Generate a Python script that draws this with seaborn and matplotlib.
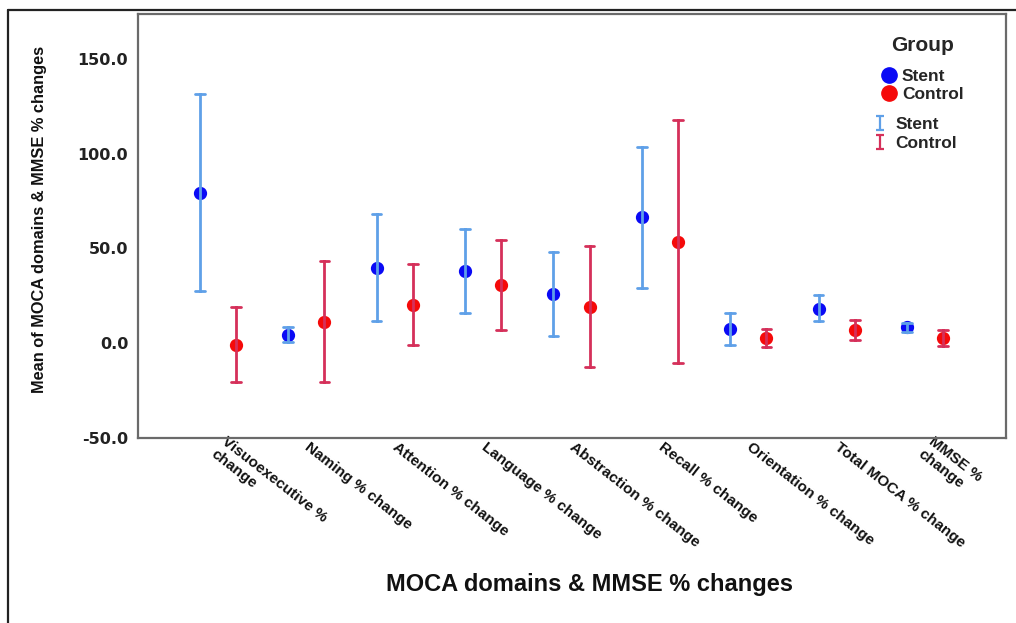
import numpy as np
import pandas as pd
import matplotlib
matplotlib.use("Agg")
import matplotlib.pyplot as plt
from matplotlib.lines import Line2D
from matplotlib.path import Path
import seaborn as sns

# ---------------- data ----------------
categories = ["Visuoexecutive % change", "Naming % change", "Attention % change",
              "Language % change", "Abstraction % change", "Recall % change",
              "Orientation % change", "Total MOCA % change", "MMSE % change"]
tick_labels = ["Visuoexecutive %\nchange", "Naming % change", "Attention % change",
               "Language % change", "Abstraction % change", "Recall % change",
               "Orientation % change", "Total MOCA % change", "MMSE %\nchange"]
groups = ["Stent", "Control"]

stent_mean = [79.4, 4.3, 39.8, 37.9, 25.7, 66.7, 7.5, 18.0, 8.2]
stent_lo = [27.4, 0.4, 11.7, 15.7, 3.8, 29.3, -0.9, 11.7, 5.8]
stent_hi = [131.8, 8.4, 68.1, 60.2, 48.0, 103.8, 16.1, 25.3, 10.5]

control_mean = [-0.9, 11.0, 20.3, 30.5, 18.8, 53.6, 2.6, 6.6, 2.6]
control_lo = [-20.9, -20.9, -1.0, 6.6, -12.7, -10.8, -2.1, 1.7, -1.7]
control_hi = [19.2, 43.3, 42.0, 54.6, 51.1, 117.8, 7.3, 11.9, 7.0]

y_ticks = [-50, 0, 50, 100, 150]

# long-form table: lower bound, mean, upper bound per cell
rows = []
for g, m, lo, hi in [("Stent", stent_mean, stent_lo, stent_hi),
                     ("Control", control_mean, control_lo, control_hi)]:
    for c, mv, lv, hv in zip(categories, m, lo, hi):
        for v in (lv, mv, hv):
            rows.append({"domain": c, "group": g, "value": v})
df = pd.DataFrame(rows)

# ---------------- style ----------------
sns.set_theme(style="white")
plt.rcParams["font.family"] = ["Liberation Sans", "DejaVu Sans"]
plt.rcParams["font.weight"] = "bold"

point_colors = {"Stent": "#0A0AF5", "Control": "#F50A0A"}
err_colors = {"Stent": "#5FA0E8", "Control": "#D5305A"}

fig = plt.figure(figsize=(10.16, 6.23), dpi=100)
ax = fig.add_axes([138 / 1016, 1 - 437.5 / 623, 868 / 1016, 423.5 / 623])

common = dict(data=df, x="domain", y="value", hue="group", order=categories,
              hue_order=groups, estimator="median", dodge=0.41,
              linestyle="none", legend=False, ax=ax)

# points (mean)
sns.pointplot(errorbar=None, palette=point_colors, markers="o",
              markersize=7.5, **common)
# error bars (min..max of lower/upper bound rows)
sns.pointplot(errorbar=("pi", 100), palette=err_colors, markers="o",
              markersize=0, capsize=0.11, err_kws={"linewidth": 2.0},
              **common)

ax.set_xlim(-0.905, 8.916)
ax.set_ylim(-50, 174)
ax.set_yticks(y_ticks)
ax.set_yticklabels([f"{t:.1f}" for t in y_ticks],
                   fontfamily="DejaVu Sans", fontweight="bold", fontsize=11.5,
                   color="#222222")
ax.set_xticks(range(len(categories)))
ax.set_xticklabels(tick_labels, fontsize=11, fontweight="bold", color="#111111")
for t in ax.get_xticklabels():
    t.set_rotation(-38)
    t.set_ha("left")
    t.set_va("center")
    t.set_rotation_mode("anchor")
ax.tick_params(axis="both", length=0)
ax.tick_params(axis="y", pad=7)
ax.tick_params(axis="x", pad=6)

for s in ax.spines.values():
    s.set_visible(True)
    s.set_color("#6a6a6a")
    s.set_linewidth(1.6)

ax.set_xlabel("")
ax.set_ylabel("Mean of MOCA domains & MMSE % changes",
              fontweight="bold", fontsize=11.8, color="#111111")
ax.yaxis.set_label_coords(-0.105, 0.515)

fig.text(589 / 1016, 1 - 585 / 623, "MOCA domains & MMSE % changes",
         ha="center", va="center", fontsize=17, fontweight="bold",
         color="#111111")

# ---------------- legends ----------------
h1 = [Line2D([], [], marker="o", linestyle="none", color=point_colors[g],
             markersize=11) for g in groups]
leg1 = ax.legend(h1, groups, title="Group", loc="upper left",
                 bbox_to_anchor=(881 / 1016, 1 - 36 / 623),
                 bbox_transform=fig.transFigure, frameon=False,
                 prop={"weight": "bold", "size": 12.5},
                 title_fontproperties={"weight": "bold", "size": 15},
                 handlelength=0.9, handletextpad=0.3, labelspacing=0.15,
                 borderpad=0, borderaxespad=0)
leg1._legend_box.sep = 10
ax.add_artist(leg1)

cap_path = Path([(-0.6, -1), (0.6, -1), (0, -1), (0, 1), (-0.6, 1), (0.6, 1)],
                [Path.MOVETO, Path.LINETO, Path.MOVETO, Path.LINETO,
                 Path.MOVETO, Path.LINETO])
h2 = [Line2D([], [], marker=cap_path, linestyle="none",
             markeredgecolor=err_colors[g], markerfacecolor="none",
             markeredgewidth=1.6, markersize=10) for g in groups]
leg2 = ax.legend(h2, groups, loc="upper left",
                 bbox_to_anchor=(872 / 1016, 1 - 117 / 623),
                 bbox_transform=fig.transFigure, frameon=False,
                 prop={"weight": "bold", "size": 12.5},
                 handlelength=0.9, handletextpad=0.45, labelspacing=0.2,
                 borderpad=0, borderaxespad=0)

# outer frame lines of the exported figure
fig.add_artist(Line2D([8 / 1016, 8 / 1016], [0, 1 - 10 / 623],
                      transform=fig.transFigure, color="#222222", lw=1.6))
fig.add_artist(Line2D([8 / 1016, 1], [1 - 10 / 623, 1 - 10 / 623],
                      transform=fig.transFigure, color="#222222", lw=1.6))

fig.savefig("out.png", dpi=100, facecolor="white")
